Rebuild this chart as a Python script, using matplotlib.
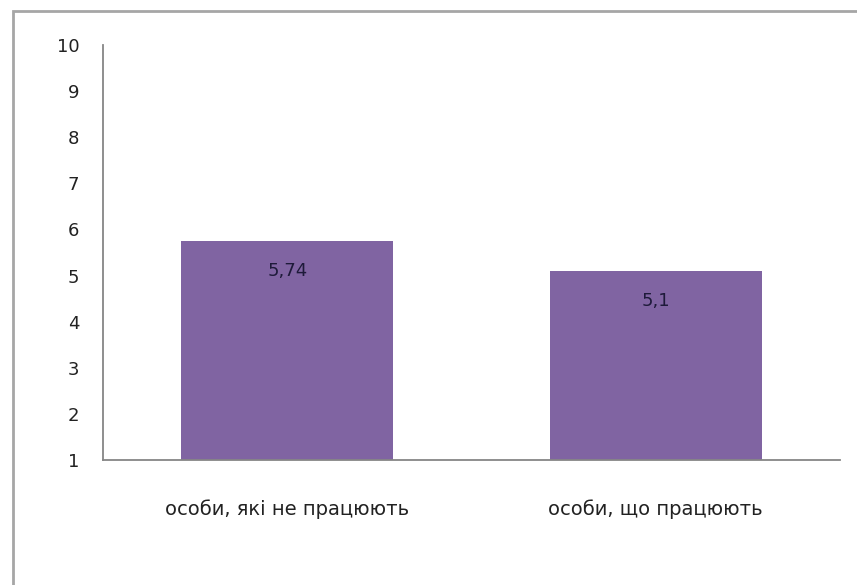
import matplotlib.pyplot as plt
from matplotlib.patches import Rectangle

categories = ['особи, які не працюють', 'особи, що працюють']
values = [5.74, 5.1]
yticks = [1, 2, 3, 4, 5, 6, 7, 8, 9, 10]

bar_color = '#8064A2'
axis_color = '#868686'

fig = plt.figure(figsize=(8.57, 5.85), dpi=100)
ax = fig.add_axes([103 / 857, 1 - 460 / 585, (840 - 103) / 857, (460 - 45) / 585])

x = range(len(categories))
bars = ax.bar(x, [v - 1 for v in values], bottom=1, width=0.575, color=bar_color)

# value labels inside bars, comma decimal
for b, v in zip(bars, values):
    ax.text(b.get_x() + b.get_width() / 2, v - 0.65, str(v).replace('.', ','),
            ha='center', va='center', fontsize=13, color='#1e1a3a')

ax.set_xlim(-0.5, len(categories) - 0.5)
ax.set_ylim(1, 10)
ax.set_yticks(yticks)
ax.set_xticks(list(x))
ax.set_xticklabels(categories, fontsize=14, color='#222222')
ax.tick_params(axis='y', length=0, pad=17, labelsize=13, labelcolor='#222222')
ax.tick_params(axis='x', length=0, pad=28)

for s in ['top', 'right']:
    ax.spines[s].set_visible(False)
ax.spines['left'].set_color(axis_color)
ax.spines['bottom'].set_color(axis_color)
ax.spines['left'].set_linewidth(1.3)
ax.spines['bottom'].set_linewidth(1.3)

# outer chart border (right and bottom edges fall outside the image)
fig.patches.append(Rectangle((13 / 857, -0.1), 1.1, 1.1 - 11.5 / 585,
                             transform=fig.transFigure, fill=False,
                             edgecolor='#a6a6a6', linewidth=2))

fig.savefig('out.png', dpi=100)
